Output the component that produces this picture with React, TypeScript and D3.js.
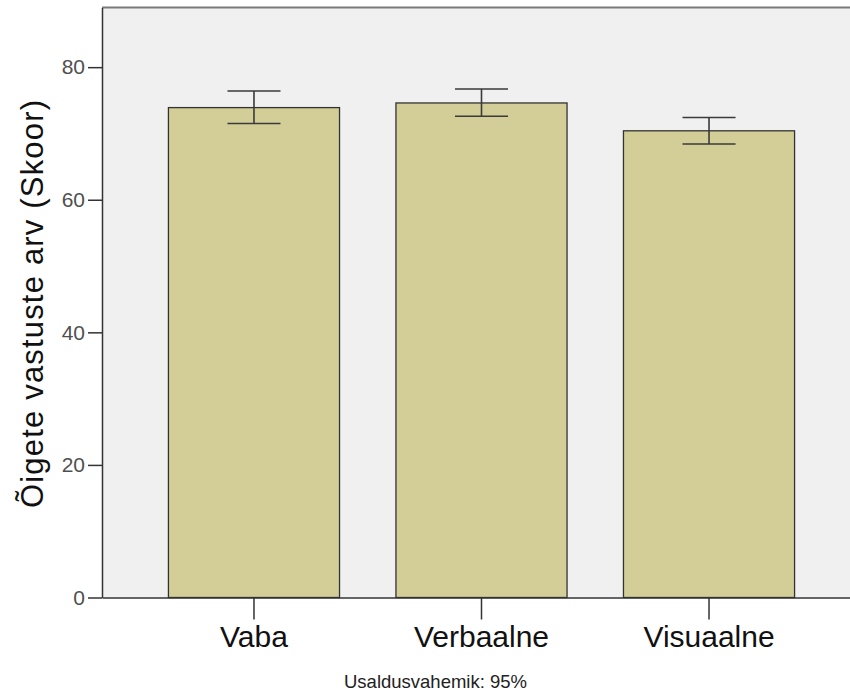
import { useEffect, useRef } from "react";
import * as d3 from "d3";

const categories = ["Vaba", "Verbaalne", "Visuaalne"];
const means = [73.9, 74.6, 70.4];
const ciLow = [71.5, 72.6, 68.4];
const ciHigh = [76.4, 76.7, 72.4];
const yTicks = [0, 20, 40, 60, 80];
const yTitle = "Õigete vastuste arv (Skoor)";
const footnote = "Usaldusvahemik: 95%";

const App = () => {
  const svgRef = useRef<SVGSVGElement | null>(null);

  useEffect(() => {
    const width = 850;
    const height = 692;
    const plot = { left: 102, right: 861, top: 7.5, bottom: 597.5 };
    const font = "'Liberation Sans', Arial, sans-serif";

    const x = d3
      .scaleBand<string>()
      .domain(categories)
      .range([plot.left, plot.right])
      .paddingInner(0.248)
      .paddingOuter(0.292);

    const y = d3.scaleLinear().domain([0, 89]).range([plot.bottom, plot.top]);

    const svg = d3.select(svgRef.current);
    svg.selectAll("*").remove();

    svg
      .append("rect")
      .attr("width", width)
      .attr("height", height)
      .attr("fill", "#ffffff");

    // plot background
    svg
      .append("rect")
      .attr("x", plot.left)
      .attr("y", plot.top)
      .attr("width", plot.right - plot.left)
      .attr("height", plot.bottom - plot.top)
      .attr("fill", "#f0f0f0");

    svg
      .append("line")
      .attr("x1", plot.left)
      .attr("x2", width)
      .attr("y1", plot.top)
      .attr("y2", plot.top)
      .attr("stroke", "#7a7a7a")
      .attr("stroke-width", 2);

    const rows = categories.map((c, i) => ({
      c,
      mean: means[i],
      lo: ciLow[i],
      hi: ciHigh[i],
    }));

    // bars
    svg
      .append("g")
      .selectAll("rect")
      .data(rows)
      .join("rect")
      .attr("x", (d) => x(d.c)!)
      .attr("y", (d) => y(d.mean))
      .attr("width", x.bandwidth())
      .attr("height", (d) => y(0) - y(d.mean))
      .attr("fill", "#d3ce97")
      .attr("stroke", "#333333")
      .attr("stroke-width", 1.3);

    // error bars
    const capHalf = x.bandwidth() * 0.155;
    const err = svg
      .append("g")
      .attr("stroke", "#3a3a3a")
      .attr("stroke-width", 1.6)
      .selectAll("g")
      .data(rows)
      .join("g")
      .attr("transform", (d) => `translate(${x(d.c)! + x.bandwidth() / 2},0)`);
    err
      .append("line")
      .attr("y1", (d) => y(d.hi))
      .attr("y2", (d) => y(d.lo));
    err
      .append("line")
      .attr("x1", -capHalf)
      .attr("x2", capHalf)
      .attr("y1", (d) => y(d.hi))
      .attr("y2", (d) => y(d.hi));
    err
      .append("line")
      .attr("x1", -capHalf)
      .attr("x2", capHalf)
      .attr("y1", (d) => y(d.lo))
      .attr("y2", (d) => y(d.lo));

    // y axis
    const yAxis = svg
      .append("g")
      .attr("transform", `translate(${plot.left},0)`)
      .call(d3.axisLeft(y).tickValues(yTicks).tickSize(14).tickSizeOuter(0).tickPadding(3));
    yAxis.select(".domain").attr("stroke", "#333333").attr("stroke-width", 1.5);
    yAxis.selectAll(".tick line").attr("stroke", "#333333").attr("stroke-width", 1.5);
    yAxis
      .selectAll(".tick text")
      .attr("font-family", font)
      .attr("font-size", 21)
      .attr("fill", "#505050");

    // x axis
    const xAxis = svg
      .append("g")
      .attr("transform", `translate(0,${plot.bottom})`)
      .call(d3.axisBottom(x).tickSize(22).tickSizeOuter(0).tickPadding(6));
    xAxis.select(".domain").attr("stroke", "#333333").attr("stroke-width", 1.5);
    xAxis.selectAll(".tick line").attr("stroke", "#333333").attr("stroke-width", 1.5);
    xAxis
      .selectAll(".tick text")
      .attr("font-family", font)
      .attr("font-size", 30)
      .attr("fill", "#111111");

    // y title
    svg
      .append("text")
      .attr("transform", `translate(43,304) rotate(-90)`)
      .attr("text-anchor", "middle")
      .attr("font-family", font)
      .attr("font-size", 31)
      .attr("textLength", 408)
      .attr("lengthAdjust", "spacing")
      .attr("fill", "#111111")
      .text(yTitle);

    svg
      .append("text")
      .attr("x", 435.5)
      .attr("y", 688)
      .attr("text-anchor", "middle")
      .attr("font-family", font)
      .attr("font-size", 18.5)
      .attr("fill", "#222222")
      .text(footnote);
  }, []);

  return (
    <svg
      ref={svgRef}
      width={850}
      height={692}
      style={{ position: "absolute", left: 0, top: 0 }}
    />
  );
};

export default App;
